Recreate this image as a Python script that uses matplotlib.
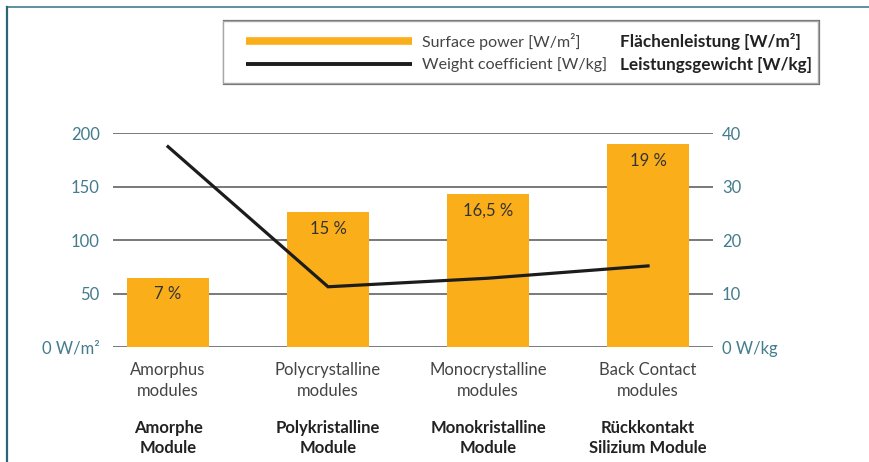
import matplotlib.pyplot as plt
from matplotlib.patches import Rectangle
from matplotlib.lines import Line2D
from matplotlib.transforms import blended_transform_factory
import numpy as np

# Module types (English / German)
labels_en = ['Amorphus\nmodules', 'Polycrystalline\nmodules',
             'Monocrystalline\nmodules', 'Back Contact\nmodules']
labels_de = ['Amorphe\nModule', 'Polykristalline\nModule',
             'Monokristalline\nModule', 'Rückkontakt\nSilizium Module']

# Surface power [W/m²] and efficiency labels on the bars
surface_power = [65, 126, 143.5, 190]
efficiency = ['7 %', '15 %', '16,5 %', '19 %']

# Weight coefficient [W/kg]
weight_coeff = [37.5, 11.3, 12.9, 15.2]

left_ticks = [0, 50, 100, 150, 200]
left_ticklabels = ['0 W/m²', '50', '100', '150', '200']
right_ticks = [0, 10, 20, 30, 40]
right_ticklabels = ['0 W/kg', '10', '20', '30', '40']

ORANGE = '#f9ae1a'
TEAL = '#437c8b'
GREY_TXT = '#444444'
DARK_TXT = '#222222'
W, H = 869, 462

plt.rcParams['font.family'] = ['Lato', 'DejaVu Sans']

fig = plt.figure(figsize=(W / 100, H / 100), dpi=100)


def fx(px):
    return px / W


def fy(py):
    return 1 - py / H


# axes box in pixels
ax_l, ax_r, ax_t, ax_b = 113, 713, 133.3, 347.2
ax = fig.add_axes([fx(ax_l), fy(ax_b), fx(ax_r - ax_l), (ax_b - ax_t) / H])
ax2 = ax.twinx()

x = np.arange(len(surface_power))
bars = ax.bar(x, surface_power, width=0.51, color=ORANGE, zorder=2)
ax.set_xlim(-0.344, 3.406)
ax.set_ylim(0, 200)

for yv in left_ticks:
    ax.axhline(yv, color='#555555', lw=1.1, zorder=1)

for bar, txt in zip(bars, efficiency):
    ax.annotate(txt, xy=(bar.get_x() + bar.get_width() / 2, bar.get_height()),
                xytext=(0, -12), textcoords='offset points',
                ha='center', va='center', fontsize=12, color='#333333')

ax2.plot(x, weight_coeff, color='#1c1c1c', lw=2.3, solid_joinstyle='miter', zorder=3)
ax2.set_ylim(0, 40)

ax.set_yticks(left_ticks)
ax.set_yticklabels(left_ticklabels)
ax2.set_yticks(right_ticks)
ax2.set_yticklabels(right_ticklabels)
ax.tick_params(axis='y', length=0, pad=9.5, labelsize=12, labelcolor=TEAL)
ax2.tick_params(axis='y', length=0, pad=6.5, labelsize=12, labelcolor=TEAL)
ax.set_xticks([])
for a in (ax, ax2):
    for s in a.spines.values():
        s.set_visible(False)
ax.set_zorder(ax2.get_zorder() - 1)
ax2.patch.set_visible(False)
ax.patch.set_visible(False)

# category labels below the axis
tr = blended_transform_factory(ax.transData, fig.transFigure)
for xi, en, de in zip(x, labels_en, labels_de):
    ax.text(xi, fy(380.5), en, transform=tr, ha='center', va='center',
            fontsize=12, color=GREY_TXT, linespacing=1.38)
    ax.text(xi, fy(438), de, transform=tr, ha='center', va='center',
            fontsize=12, color=DARK_TXT, fontweight='bold', linespacing=1.38)

# frame lines along top and left
fig.add_artist(Line2D([fx(7), 1], [fy(7), fy(7)], color='#4f8893', lw=1.3))
fig.add_artist(Line2D([fx(7), fx(7)], [fy(7), 0], color='#2f6676', lw=1.6))

# legend box
fig.add_artist(Rectangle((fx(223.5), fy(84)), fx(818.5 - 223.5), (84 - 21) / H,
                         facecolor='none', edgecolor='#6e6e6e', lw=1.6))
fig.add_artist(Rectangle((fx(222.5), fy(83)), fx(817.5 - 222.5), (83 - 20.5) / H,
                         facecolor='white', edgecolor='#a8a8a8', lw=1.0))
fig.add_artist(Line2D([fx(246), fx(412)], [fy(41), fy(41)], color=ORANGE, lw=5.5,
                      solid_capstyle='butt'))
fig.add_artist(Line2D([fx(246), fx(412)], [fy(64), fy(64)], color='#1c1c1c', lw=2.8,
                      solid_capstyle='butt'))
fig.text(fx(422), fy(41.5), 'Surface power [W/m²]', ha='left', va='center',
         fontsize=11.5, color=GREY_TXT)
fig.text(fx(422), fy(65), 'Weight coefficient [W/kg]', ha='left', va='center',
         fontsize=11.5, color=GREY_TXT)
fig.text(fx(620), fy(41.5), 'Flächenleistung [W/m²]', ha='left', va='center',
         fontsize=12.3, color=DARK_TXT, fontweight='bold')
fig.text(fx(620), fy(65), 'Leistungsgewicht [W/kg]', ha='left', va='center',
         fontsize=12.3, color=DARK_TXT, fontweight='bold')

fig.savefig('out.png', dpi=100)
